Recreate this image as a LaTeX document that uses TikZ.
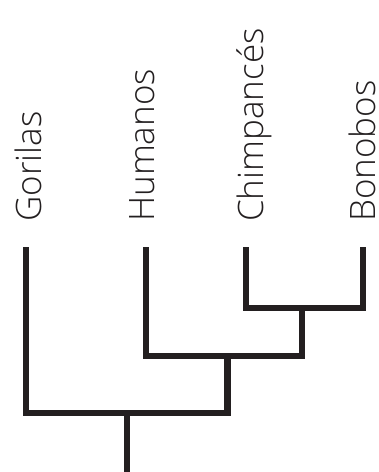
\documentclass[tikz,border=0pt]{standalone}
\usepackage{fontspec}
\setmainfont{Open Sans Light}
\definecolor{inkdark}{HTML}{231F20}
\tikzset{
  branch/.style={line width=6.5bp, draw=inkdark},
  taxon/.style={rotate=90, anchor=base west, inner sep=0pt, text=inkdark,
    font=\fontsize{35bp}{42bp}\selectfont}
}
\begin{document}
\begin{tikzpicture}[x=1bp, y=-1bp]
        \useasboundingbox (0,0) rectangle (378,472);

        % Leaf tips and branching points
        \coordinate (gor) at (26,247);
        \coordinate (hum) at (146,247);
        \coordinate (chi) at (246,247);
        \coordinate (bon) at (363,247);
        \coordinate (cb) at (302,308);
        \coordinate (hcb) at (227.5,356);
        \coordinate (all) at (127,413);
        \coordinate (root) at (127,472);

        % Labels for the species
        \node[taxon] (lgor) at (41,222) {Gorilas};
        \node[taxon] (lhum) at (154,222) {Humanos};
        \node[taxon] (lchi) at (263,222) {Chimpancés};
        \node[taxon] (lbon) at (375,222) {Bonobos};

        % Draw the tree
        \draw[branch] (chi) |- (cb) -| (bon);
        \draw[branch] (hum) |- (cb |- hcb) -- (cb);
        \draw[branch] (gor) |- (hcb |- all) -- (hcb);
        \draw[branch] (all) -- (root);
    \end{tikzpicture}
\end{document}
